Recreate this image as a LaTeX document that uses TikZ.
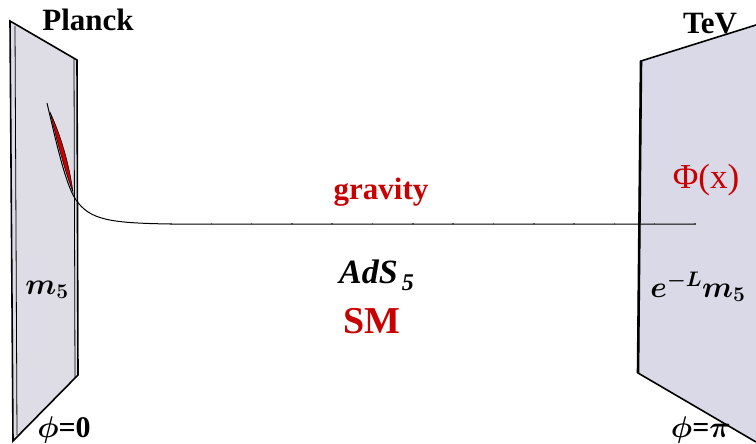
\RequirePackage{fix-cm}
\documentclass[tikz,border=0pt]{standalone}
\usepackage{amsmath}
\usepackage{fontspec}
\setmainfont{Liberation Serif}
\usetikzlibrary{positioning}
\definecolor{braneGray}{HTML}{DEDCE4}
\definecolor{braneBlue}{HTML}{D9D9E7}
\definecolor{fieldRed}{HTML}{C80000}

\begin{document}
\begin{tikzpicture}[x=1pt, y=-1pt,
    brane/.style={line width=1.6pt, line join=miter},
    lbl/.style={font=\fontsize{31}{36}\selectfont\bfseries, inner sep=0pt},
    mlbl/.style={font=\fontsize{30}{36}\selectfont\boldmath, inner sep=0pt},
    redlbl/.style={lbl, text=fieldRed},
  ]
  \useasboundingbox (0,0) rectangle (756,444);

  % Planck brane
  \filldraw[brane, fill=braneGray] (10,21) -- (77,60) -- (78,375) -- (13,441) -- cycle;
  \draw[line width=0.8pt] (15,26) -- (17,435);
  \draw[line width=0.8pt] (74,59) -- (75,378);

  % TeV brane
  \fill[braneBlue] (641,61) -- (756,25) -- (756,442) -- (638,373) -- cycle;
  \draw[brane] (756,25) -- (641,61) -- (638,373) -- (756,442);
  \draw[line width=2.6pt] (641,61) -- (638,373);

  % graviton profile
  \coordinate (gstart) at (47,103);
  \coordinate (gend)   at (695,224);
  \filldraw[fill=fieldRed, line width=0.5pt] (50,112) .. controls (63,140) and (70,170) .. (73,192)
    .. controls (66,175) and (58,145) .. (50,112);
  \draw[line width=1pt] (gstart) .. controls (58,150) and (66,185) .. (76,200)
    .. controls (90,220) and (110,223) .. (170,224) -- (gend);
  \foreach \i in {0,...,13}
    \fill[black!70] (171+40.3*\i-0.8,223.2) rectangle ++(1.6,1.6);

  \node[lbl] (planck) at (88,20) {Planck};
  \node[lbl] (tev) at (710,24) {TeV};
  \node[redlbl] (grav) at (381,192) {gravity};
  \node[lbl, font=\fontsize{34}{40}\selectfont\bfseries\itshape, anchor=base west] (ads) at (339,283)
    {AdS\raisebox{-0.22em}{\fontsize{24}{28}\selectfont\,5}};
  \node[redlbl, font=\fontsize{38}{44}\selectfont\bfseries] (sm) at (372,321) {SM};
  \node[lbl, text=fieldRed, font=\fontsize{35}{40}\selectfont] (higgs) at (706,180) {Φ(x)};
  \node[mlbl] (mplanck) at (47,290) {$m_5$};
  \node[mlbl] (mtev) at (698,287) {$e^{-L}m_5$};
  \node[mlbl] (phizero) at (64,430) {$\phi$\textbf{=0}};
  \node[mlbl] (phipi) at (701,430) {$\phi$\textbf{=}$\pi$};
\end{tikzpicture}
\end{document}
